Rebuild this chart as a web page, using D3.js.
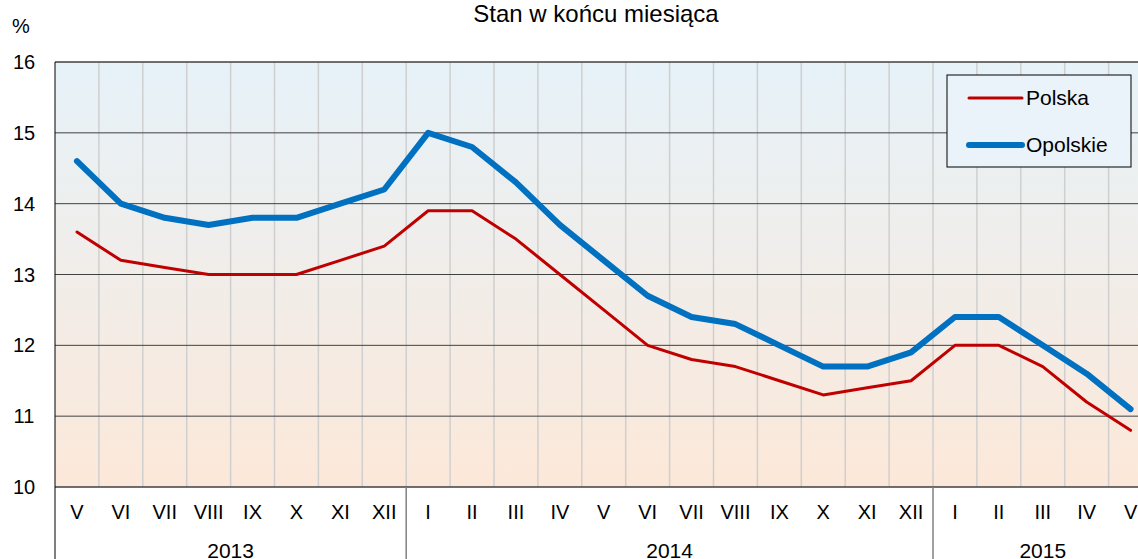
<!DOCTYPE html>
<html>
<head>
<meta charset="utf-8">
<title>Stopa bezrobocia</title>
<script src="https://d3js.org/d3.v7.min.js"></script>
<style>
  body { margin: 0; background: #fff; font-family: 'Liberation Sans', Arial, sans-serif; }
  svg text { font-family: 'Liberation Sans', Arial, sans-serif; fill: #000; }
</style>
</head>
<body>
<div id="chart"></div>
<script>
const months = ['V','VI','VII','VIII','IX','X','XI','XII',
                'I','II','III','IV','V','VI','VII','VIII','IX','X','XI','XII',
                'I','II','III','IV','V']
const years = [
  { year: '2013', from: 0, to: 8 },
  { year: '2014', from: 8, to: 20 },
  { year: '2015', from: 20, to: 25 }
]
const polska = [13.6, 13.2, 13.1, 13.0, 13.0, 13.0, 13.2, 13.4,
                13.9, 13.9, 13.5, 13.0, 12.5, 12.0, 11.8, 11.7, 11.5, 11.3, 11.4, 11.5,
                12.0, 12.0, 11.7, 11.2, 10.8]
const opolskie = [14.6, 14.0, 13.8, 13.7, 13.8, 13.8, 14.0, 14.2,
                  15.0, 14.8, 14.3, 13.7, 13.2, 12.7, 12.4, 12.3, 12.0, 11.7, 11.7, 11.9,
                  12.4, 12.4, 12.0, 11.6, 11.1]
const yTicks = [10, 11, 12, 13, 14, 15, 16]

const w = 1138, h = 559
const plot = { left: 55, top: 62, bottom: 487 }
const step = 43.9
plot.right = plot.left + step * months.length

const svg = d3.select('#chart').append('svg')
  .attr('width', w).attr('height', h)

const defs = svg.append('defs')
const grad = defs.append('linearGradient')
  .attr('id', 'bg').attr('x1', 0).attr('y1', 0).attr('x2', 0).attr('y2', 1)
grad.append('stop').attr('offset', '0%').attr('stop-color', '#e6f2f9')
grad.append('stop').attr('offset', '100%').attr('stop-color', '#fce8d9')

const x = d3.scaleBand()
  .domain(d3.range(months.length))
  .range([plot.left, plot.right])
const y = d3.scaleLinear().domain([10, 16]).range([plot.bottom, plot.top])

svg.append('rect')
  .attr('x', plot.left).attr('y', plot.top)
  .attr('width', plot.right - plot.left).attr('height', plot.bottom - plot.top)
  .attr('fill', 'url(#bg)')

// vertical grid
svg.selectAll('.vgrid')
  .data(d3.range(1, months.length))
  .enter().append('line')
  .attr('x1', d => x(d)).attr('x2', d => x(d))
  .attr('y1', plot.top).attr('y2', plot.bottom)
  .attr('stroke', '#cfcfcf').attr('stroke-width', 1.5)

// horizontal grid
svg.selectAll('.hgrid')
  .data(yTicks)
  .enter().append('line')
  .attr('x1', plot.left).attr('x2', plot.right)
  .attr('y1', d => y(d)).attr('y2', d => y(d))
  .attr('stroke', '#404040').attr('stroke-width', d => (d === 10 || d === 16) ? 1.5 : 1)

svg.append('line')
  .attr('x1', plot.left).attr('x2', plot.left).attr('y1', plot.top).attr('y2', h)
  .attr('stroke', '#000').attr('stroke-width', 1)

// y labels
svg.selectAll('.ylab')
  .data(yTicks)
  .enter().append('text')
  .attr('x', 24).attr('y', d => y(d) + 7)
  .attr('text-anchor', 'middle')
  .attr('font-size', 20)
  .text(d => d)

svg.append('text').attr('x', 21).attr('y', 33).attr('text-anchor', 'middle')
  .attr('font-size', 20).text('%')

svg.append('text').attr('x', 596).attr('y', 22).attr('text-anchor', 'middle')
  .attr('font-size', 24).text('Stan w końcu miesiąca')

// month labels
svg.selectAll('.mlab')
  .data(months)
  .enter().append('text')
  .attr('x', (d, i) => x(i) + x.bandwidth() / 2)
  .attr('y', 519)
  .attr('text-anchor', 'middle')
  .attr('font-size', 20)
  .text(d => d)

// year separators and labels
svg.selectAll('.ysep')
  .data(years.slice(1))
  .enter().append('line')
  .attr('x1', d => x(d.from)).attr('x2', d => x(d.from))
  .attr('y1', plot.bottom).attr('y2', h)
  .attr('stroke', '#808080').attr('stroke-width', 1.5)

svg.selectAll('.ylabel')
  .data(years)
  .enter().append('text')
  .attr('x', d => (x(d.from) + (d.to < months.length ? x(d.to) : plot.right)) / 2)
  .attr('y', 558)
  .attr('text-anchor', 'middle')
  .attr('font-size', 21)
  .text(d => d.year)

// lines
const line = d3.line()
  .x((d, i) => x(i) + x.bandwidth() / 2)
  .y(d => y(d))

svg.append('path').datum(polska)
  .attr('d', line).attr('fill', 'none')
  .attr('stroke', '#c00000').attr('stroke-width', 3)
  .attr('stroke-linejoin', 'round').attr('stroke-linecap', 'round')

svg.append('path').datum(opolskie)
  .attr('d', line).attr('fill', 'none')
  .attr('stroke', '#0070c0').attr('stroke-width', 6)
  .attr('stroke-linejoin', 'round').attr('stroke-linecap', 'round')

// legend
const legend = svg.append('g').attr('transform', 'translate(947,75)')
legend.append('rect')
  .attr('width', 184).attr('height', 92)
  .attr('fill', '#e9f3f9').attr('stroke', '#000').attr('stroke-width', 1)
const items = [
  { name: 'Polska', color: '#c00000', width: 3, y: 23 },
  { name: 'Opolskie', color: '#0070c0', width: 6, y: 70 }
]
items.forEach(it => {
  legend.append('line')
    .attr('x1', 22).attr('x2', 75).attr('y1', it.y).attr('y2', it.y)
    .attr('stroke', it.color).attr('stroke-width', it.width)
    .attr('stroke-linecap', 'round')
  legend.append('text')
    .attr('x', 79).attr('y', it.y + 7)
    .attr('font-size', 21)
    .text(it.name)
})
</script>
</body>
</html>
